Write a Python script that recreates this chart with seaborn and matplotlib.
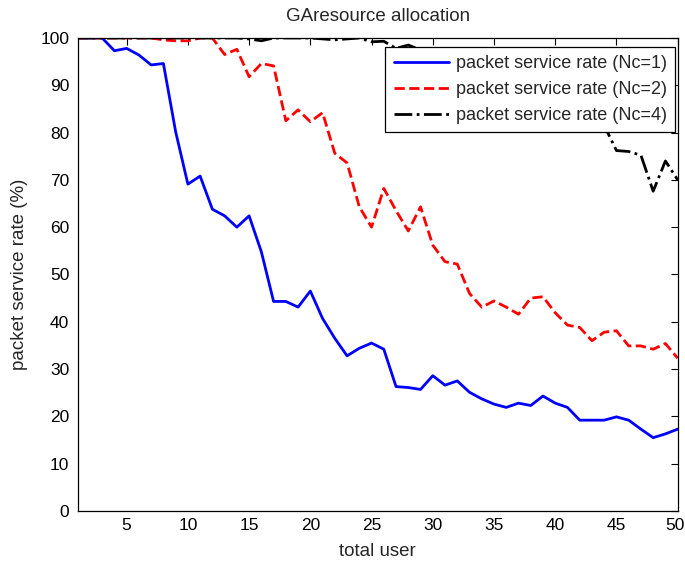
import numpy as np
import pandas as pd
import matplotlib
matplotlib.use("Agg")
import matplotlib.pyplot as plt
import matplotlib.transforms as mtransforms
import seaborn as sns

users = list(range(1, 51))

rate_nc1 = [100, 100, 100, 97.3, 97.8, 96.4, 94.3, 94.6, 80.2, 69.1,
            70.8, 63.8, 62.4, 60.0, 62.4, 54.8, 44.3, 44.3, 43.1, 46.5,
            40.7, 36.5, 32.8, 34.4, 35.5, 34.2, 26.3, 26.1, 25.7, 28.6,
            26.6, 27.5, 25.1, 23.7, 22.6, 21.9, 22.8, 22.3, 24.3, 22.8,
            21.9, 19.2, 19.2, 19.2, 19.9, 19.2, 17.3, 15.5, 16.3, 17.3]

rate_nc2 = [100, 100, 100, 100, 100, 100, 100, 99.6, 99.4, 99.4,
            100, 100, 96.5, 97.6, 91.8, 94.6, 94.1, 82.5, 84.8, 82.3,
            84.2, 75.6, 73.6, 64.3, 60.0, 68.2, 63.5, 59.2, 64.3, 56.2,
            52.7, 52.2, 46.0, 43.1, 44.4, 43.1, 41.6, 45.0, 45.3, 41.9,
            39.3, 38.8, 36.0, 37.8, 38.1, 34.9, 34.9, 34.2, 35.4, 32.3]

rate_nc4 = [100, 100, 100, 100, 100, 100, 100, 100, 100, 100,
            100, 100, 100, 100, 99.8, 99.4, 100, 100, 100, 100,
            99.8, 99.6, 99.8, 100, 99.2, 99.3, 97.8, 98.5, 97.5, 97.0,
            96.0, 95.5, 94.0, 93.0, 92.0, 90.5, 89.0, 88.0, 86.0, 84.0,
            80.6, 82.0, 84.0, 81.5, 76.2, 76.0, 75.2, 67.6, 74.0, 70.0]

x_ticks = [5, 10, 15, 20, 25, 30, 35, 40, 45, 50]
y_ticks = [0, 10, 20, 30, 40, 50, 60, 70, 80, 90, 100]

labels = ["packet service rate (Nc=1)",
          "packet service rate (Nc=2)",
          "packet service rate (Nc=4)"]

sns.set_style("white")
plt.rcParams["font.family"] = ["Liberation Sans", "DejaVu Sans"]

fig = plt.figure(figsize=(6.85, 5.66), dpi=100)
ax = fig.add_axes([0.1134, 0.0972, 0.8759, 0.8357])

series = [
    (rate_nc1, labels[0], "#0000ff", "-", (None,)),
    (rate_nc2, labels[1], "#ff0000", "--", (None,)),
    (rate_nc4, labels[2], "#000000", "-.", (None,)),
]
for vals, lab, col, ls, _ in series:
    df = pd.DataFrame({"user": users, "rate": vals})
    sns.lineplot(data=df, x="user", y="rate", ax=ax, color=col,
                 linestyle=ls, linewidth=2.0, label=lab)

ax.set_xlim(1, 50)
ax.set_ylim(0, 100)
ax.set_xticks(x_ticks)
ax.set_xticklabels([str(t) for t in x_ticks])
ax.set_yticks(y_ticks)
ax.set_yticklabels([str(t) for t in y_ticks])
ax.tick_params(direction="in", length=5, width=0.8, top=True, right=True,
               labelsize=12.5, colors="black")
ax.tick_params(axis="y", pad=6)
ax.tick_params(axis="x", pad=5)
for sp in ax.spines.values():
    sp.set_color("black")
    sp.set_linewidth(0.9)

# nudge the last x tick label so it stays inside the figure edge
last = ax.get_xticklabels()[-1]
last.set_transform(last.get_transform() +
                   mtransforms.ScaledTranslation(-3 / 100, 0, fig.dpi_scale_trans))

ax.set_xlabel("total user", fontsize=13.5, labelpad=7.5)
ax.set_ylabel("packet service rate (%)", fontsize=13.5, labelpad=9)
ax.set_title("GAresource allocation", fontsize=13.5, pad=12.5)

leg = ax.legend(loc="upper right", bbox_to_anchor=(0.9955, 0.981),
                borderaxespad=0, fontsize=13, frameon=True, fancybox=False,
                framealpha=1, edgecolor="black", handlelength=3.05,
                handletextpad=0.4, labelspacing=0.5, borderpad=0.45)
leg.get_frame().set_linewidth(0.9)

fig.savefig("out.png", dpi=100)
